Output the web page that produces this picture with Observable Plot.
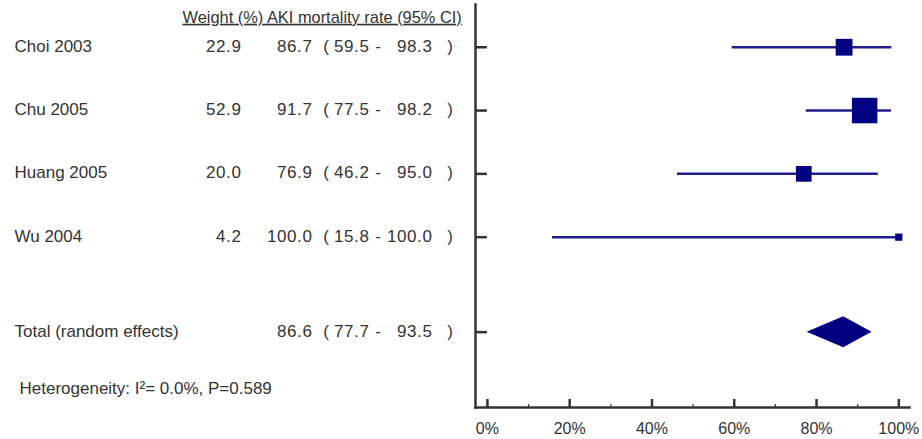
<!DOCTYPE html>
<html>
<head>
<meta charset="utf-8">
<script src="https://cdn.jsdelivr.net/npm/d3@7"></script>
<script src="https://cdn.jsdelivr.net/npm/@observablehq/plot@0.6"></script>
<style>
  html, body { margin: 0; padding: 0; background: #fff; }
  #chart svg { display: block; font-family: "Liberation Sans", Arial, sans-serif; }
  .hdr text { text-decoration: underline; }
  .num text { letter-spacing: 0.6px; }
</style>
</head>
<body>
<div id="chart"></div>
<script>
// ---- data ----
const studies = ["Choi 2003", "Chu 2005", "Huang 2005", "Wu 2004"];
const weights = [22.9, 52.9, 20.0, 4.2];
const rates   = [86.7, 91.7, 76.9, 100.0];
const lowers  = [59.5, 77.5, 46.2, 15.8];
const uppers  = [98.3, 98.2, 95.0, 100.0];
const totalLabel = "Total (random effects)";
const totalRate = 86.6, totalLower = 77.7, totalUpper = 93.5;
const headerText = "Weight (%) AKI mortality rate (95% CI)";
const heterogeneityText = "Heterogeneity: I\u00B2= 0.0%, P=0.589";
const xTicks = [0, 20, 40, 60, 80, 100];
const xMinorTicks = [10, 30, 50, 70, 90];
const xTickLabels = ["0%", "20%", "40%", "60%", "80%", "100%"];

// ---- layout ----
const W = 922, H = 439;
const mTop = 4, mBottom = 32, mLeft = 475, mRight = 13;
const frameH = H - mTop - mBottom;
const xDomain = [-2.9, 102.6];
const yDomain = [-0.675, 5.69];
const totalRow = 4.5, headerRow = -0.47, hetRow = 5.39;
const diamondHalf = 0.245;
const ink = "#333";
const navy = "#000080";
const lineBlue = "#1e1e8e";
const fs = 17;
const f1 = d3.format(".1f");

const rows = studies.map((s, i) => ({study: s, weight: weights[i], rate: rates[i], lo: lowers[i], hi: uppers[i], row: i}));
const tableRows = rows.map(r => ({...r}))
  .concat([{study: totalLabel, weight: null, rate: totalRate, lo: totalLower, hi: totalUpper, row: totalRow}]);
const diamond = [
  {x: totalLower, y1: totalRow, y2: totalRow},
  {x: totalRate, y1: totalRow - diamondHalf, y2: totalRow + diamondHalf},
  {x: totalUpper, y1: totalRow, y2: totalRow}
];

// pixel column positions (relative to left of frame)
const col = px => px - mLeft;
const txt = (data, opts) => Plot.text(data, {frameAnchor: "left", fill: ink, fontSize: fs, lineAnchor: "middle", ...opts});

const chart = Plot.plot({
  width: W, height: H,
  marginTop: mTop, marginBottom: mBottom, marginLeft: mLeft, marginRight: mRight,
  x: {domain: xDomain, axis: null},
  y: {domain: yDomain, reverse: true, axis: null},
  r: {type: "sqrt", domain: [0, d3.max(weights)], range: [0, 14.4]},
  style: {fontFamily: "Liberation Sans, Arial, sans-serif", color: ink, overflow: "visible"},
  marks: [
    // axes
    Plot.frame({anchor: "left", stroke: ink, strokeWidth: 2.5}),
    Plot.frame({anchor: "bottom", stroke: ink, strokeWidth: 2.5}),
    Plot.ruleY(tableRows, {y: "row", x1: () => xDomain[0], x2: () => 0, stroke: ink, strokeWidth: 2.5}),
    Plot.ruleX(xTicks, {x: d => d, insetTop: frameH - 8, stroke: ink, strokeWidth: 2.5}),
    Plot.ruleX(xMinorTicks, {x: d => d, insetTop: frameH - 3, stroke: ink, strokeWidth: 1.2}),
    Plot.text(xTicks, {x: d => d, text: (d, i) => xTickLabels[i], frameAnchor: "bottom", dy: 21, lineAnchor: "middle", fontSize: 16, fill: ink}),
    // CIs and estimates
    Plot.ruleY(rows, {y: "row", x1: "lo", x2: "hi", stroke: lineBlue, strokeWidth: 2.5}),
    Plot.dot(rows, {x: "rate", y: "row", r: "weight", symbol: "square", fill: navy, stroke: null}),
    Plot.areaY(diamond, {x: "x", y1: "y1", y2: "y2", fill: navy, curve: "linear"}),
    // table text
    txt([headerText], {y: () => headerRow, text: d => d, dx: col(182), textAnchor: "start", fontSize: 16.4, className: "hdr"}),
    txt(tableRows, {y: "row", text: "study", dx: col(14), textAnchor: "start", dy: -1}),
    txt(rows, {y: "row", text: d => f1(d.weight), dx: col(241), textAnchor: "end", dy: -1, className: "num"}),
    txt(tableRows, {y: "row", text: d => f1(d.rate), dx: col(312), textAnchor: "end", dy: -1, className: "num"}),
    txt(tableRows, {y: "row", text: () => "(", dx: col(325.5), textAnchor: "middle", dy: -1}),
    txt(tableRows, {y: "row", text: d => f1(d.lo), dx: col(333.5), textAnchor: "start", dy: -1, className: "num"}),
    txt(tableRows, {y: "row", text: () => "-", dx: col(377.5), textAnchor: "middle", dy: -1}),
    txt(tableRows, {y: "row", text: d => f1(d.hi), dx: col(432), textAnchor: "end", dy: -1, className: "num"}),
    txt(tableRows, {y: "row", text: () => ")", dx: col(449.7), textAnchor: "middle", dy: -1}),
    txt([heterogeneityText], {y: () => hetRow, text: d => d, dx: col(19), textAnchor: "start"})
  ]
});
document.getElementById("chart").append(chart);
</script>
</body>
</html>
